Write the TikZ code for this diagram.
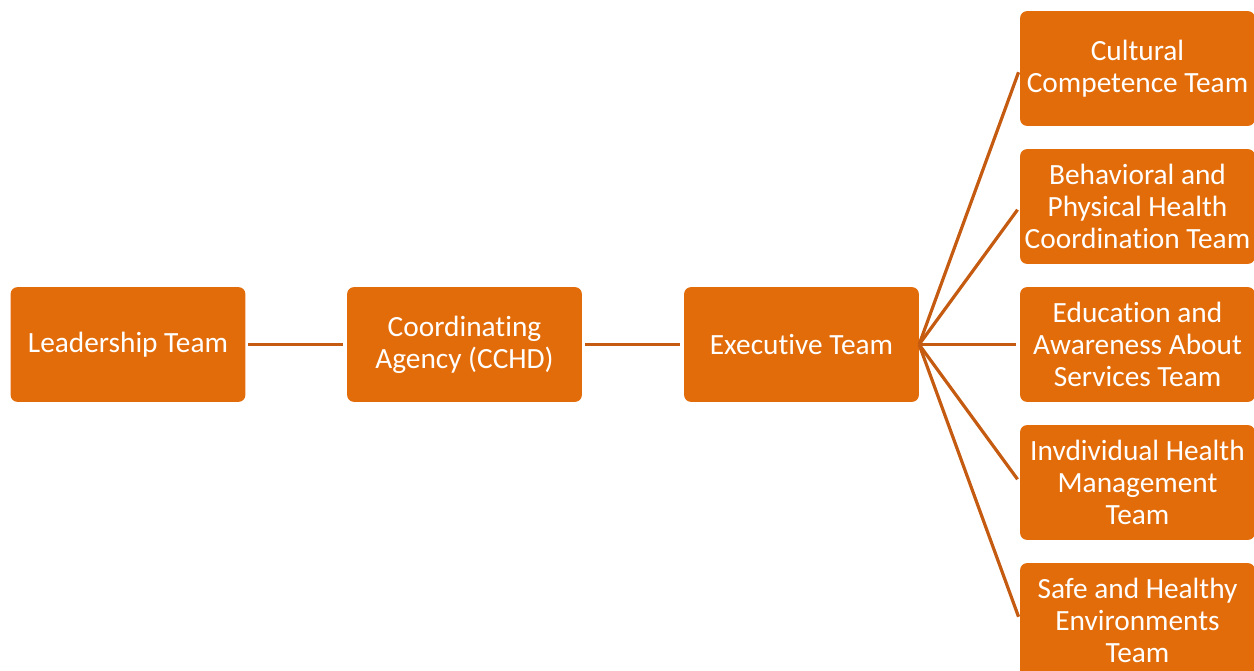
\documentclass[tikz,border=0pt]{standalone}
\usepackage{fontspec}
\setmainfont{Carlito}[Ligatures=NoCommon]
\definecolor{teamfill}{HTML}{E36C0A}
\definecolor{teamline}{HTML}{C55A11}
\tikzset{
  team/.style={draw=none,fill=teamfill,rounded corners=5pt,text=white,
    minimum width=176pt,minimum height=86pt,align=center,
    font=\fontsize{22pt}{24pt}\selectfont,inner sep=0pt},
  link/.style={draw=teamline,line width=2.4pt}
}
\begin{document}
\begin{tikzpicture}[x=0.75pt,y=-0.75pt]
    \useasboundingbox (0,0) rectangle (1254,671);
        \node [team](lead)at(128,344.5){Leadership Team};
        \node [team](coord)at(464.5,344.5){Coordinating\\Agency (CCHD)};
        \node [team](exec)at(801.5,344.5){Executive Team};
        \node [team](t1)at(1137.5,68.5){Cultural\\Competence Team};
        \node [team](t2)at(1137.5,206.5){Behavioral and\\Physical Health\\Coordination Team};
        \node [team](t3)at(1137.5,344.5){Education and\\Awareness About\\Services Team};
        \node [team](t4)at(1137.5,482.5){Invdividual Health\\Management\\Team};
        \node [team](t5)at(1137.5,620.5){Safe and Healthy\\Environments\\Team};

        \draw [link,shorten <=2pt,shorten >=3pt] (lead) -- (coord);
        \draw [link,shorten <=2pt,shorten >=3pt] (coord) -- (exec);
        \draw [link,shorten >=3pt] (exec.east) -- (t1.west);
        \draw [link,shorten >=3pt] (exec.east) -- (t2.west);
        \draw [link,shorten >=3pt] (exec.east) -- (t3.west);
        \draw [link,shorten >=3pt] (exec.east) -- (t4.west);
        \draw [link,shorten >=3pt] (exec.east) -- (t5.west);
    \end{tikzpicture}
\end{document}
